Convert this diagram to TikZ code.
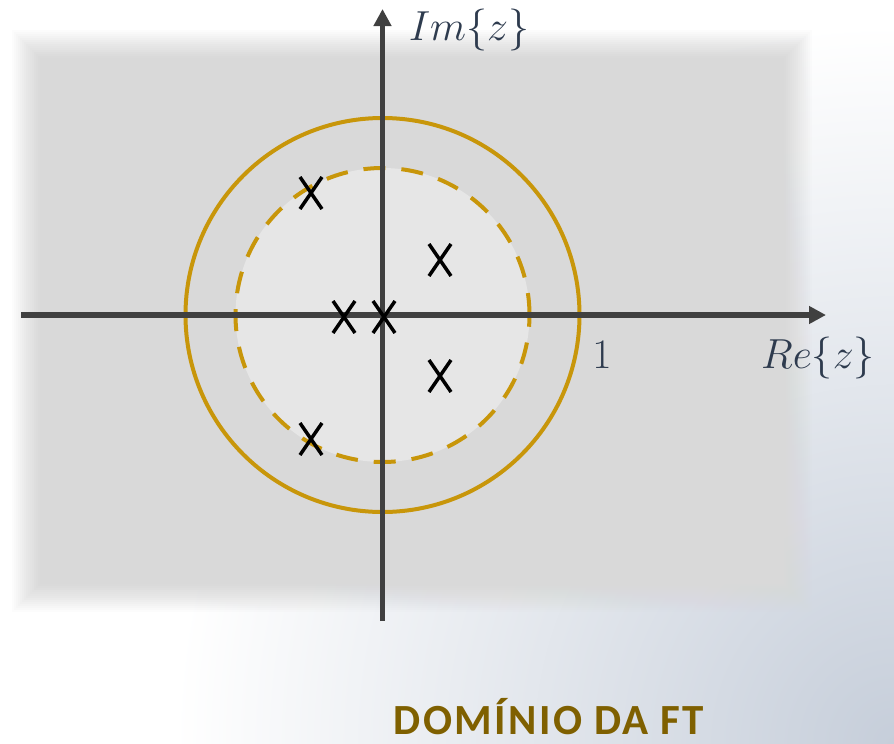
\RequirePackage{fix-cm}
\documentclass[tikz,border=0pt]{standalone}
\usepackage{fontspec}
\newfontfamily\carlito{Carlito}[LetterSpace=5.5]
\usetikzlibrary{arrows.meta,calc}
\definecolor{gold}{HTML}{C8960A}
\definecolor{axisgray}{HTML}{404040}
\definecolor{panelgray}{HTML}{D9D9D9}
\definecolor{innergray}{HTML}{E6E6E6}
\definecolor{labelblue}{HTML}{2E3B4E}
\definecolor{titlebrown}{HTML}{7F6000}
\definecolor{bgblue}{HTML}{C6CEDA}
\tikzset{
  axis/.style={draw=axisgray, line width=5.5pt, -{Triangle[width=17pt,length=17pt]}},
  unitcircle/.style={draw=gold, line width=4pt},
  roccircle/.style={draw=gold, line width=4pt, dash pattern=on 22pt off 16pt, fill=innergray},
  polemark/.style={line width=3.5pt, draw=black},
  lab/.style={text=labelblue, font=\fontsize{42}{48}\selectfont, inner sep=0pt},
}
\newcommand{\polex}[1]{\draw[polemark] ($(#1)+(-11,-16)$) -- ($(#1)+(11,16)$) ($(#1)+(-11,16)$) -- ($(#1)+(11,-16)$);}
\begin{document}
\begin{tikzpicture}[x=1pt,y=-1pt]
\useasboundingbox (0,0) rectangle (894,744);
% background
\begin{scope}
\clip (0,0) rectangle (894,744);
\fill[white] (0,0) rectangle (894,744);
\shade[inner color=bgblue, outer color=white] (894,744) circle[radius=720pt];
\end{scope}
% soft panel
\foreach \i in {0,...,13}{
  \pgfmathsetmacro{\op}{1/(15-\i)}
  \fill[panelgray, opacity=\op] ({12+2*\i},{30+2*\i}) rectangle ({812-2*\i},{612-2*\i});
}
\fill[panelgray] (40,58) rectangle (784,584);
\coordinate (O) at (382.5,315);
% circles
\draw[roccircle] (O) circle[radius=147pt];
\draw[unitcircle] (O) circle[radius=197pt];
% axes
\coordinate (xl) at (21,315);
\coordinate (xr) at (826,315);
\coordinate (yb) at (382.5,621);
\coordinate (yt) at (382.5,9);
\draw[axis] (xl) -- (xr);
\draw[axis] (yb) -- (yt);
% labels
\node[lab] (im) at (469,30) {$Im\{z\}$};
\node[lab] (re) at (818,358) {$Re\{z\}$};
\node[lab] (one) at (602,355) {$1$};
% poles
\coordinate (p1) at (311,193);
\coordinate (p2) at (440,260);
\coordinate (p3) at (344,317);
\coordinate (p4) at (384,317);
\coordinate (p5) at (440,376);
\coordinate (p6) at (311,439);
\polex{p1}\polex{p2}\polex{p3}\polex{p4}\polex{p5}\polex{p6}
% title
\node[text=titlebrown, font=\carlito\bfseries\fontsize{43}{48}\selectfont, inner sep=0pt, anchor=base] (title) at (549,734) {DOMÍNIO DA FT};
\end{tikzpicture}
\end{document}
